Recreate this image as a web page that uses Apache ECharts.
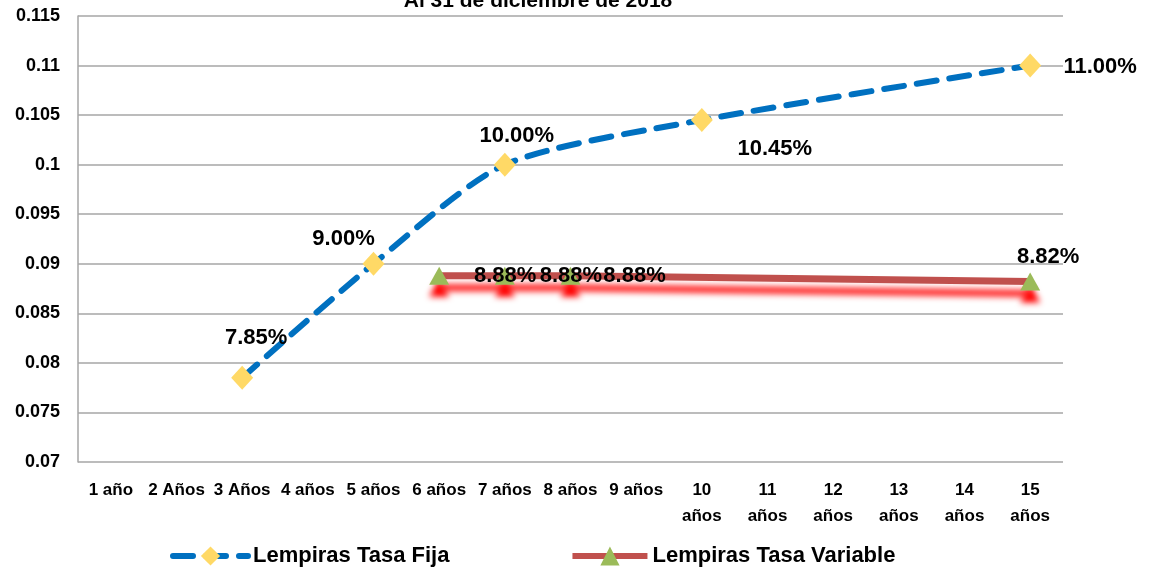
<!DOCTYPE html>
<html><head><meta charset="utf-8">
<script src="https://cdn.jsdelivr.net/npm/echarts@6/dist/echarts.min.js"></script>
<style>html,body{margin:0;padding:0;background:#fff}#c{width:1150px;height:571px}</style>
</head><body><div id="c"></div>
<script>
var categories = ['1 año','2 Años','3 Años','4 años','5 años','6 años','7 años','8 años','9 años','10 años','11 años','12 años','13 años','14 años','15 años'];
var tasaFija = [null,null,0.0785,null,0.09,null,0.10,null,null,0.1045,null,null,null,null,0.11];
var tasaVariable = [null,null,null,null,null,0.0888,0.0888,0.0888,null,null,null,null,null,null,0.0882];
var fijaLabelOffsets = {2:[14,-40],4:[-30,-25],6:[12,-29],9:[73,29],14:[70,1]};
var varLabelOffsets = {5:[66,0],6:[66,0],7:[64,0],14:[18,-25]};
var yTicks = {min:0.07,max:0.115,interval:0.005};

var FONT = 'Liberation Sans';
function pct(v){return (v*100).toFixed(2)+'%';}
function mk(arr, offs){
  return arr.map(function(v,i){
    if(v===null) return null;
    return {value:v,label:{offset:offs[i]||[0,0]}};
  });
}
var chart = echarts.init(document.getElementById('c'));
chart.setOption({
  animation:false,
  title:{text:'Al 31 de diciembre de 2018',left:533,textAlign:'center',top:-14,
    textStyle:{fontFamily:FONT,fontWeight:'bold',fontSize:21,color:'#000'}},
  grid:{left:78,right:87,top:16,bottom:109},
  legend:{left:165,top:540,itemGap:120,itemWidth:75,itemHeight:24,
    lineStyle:{width:6},
    textStyle:{fontFamily:FONT,fontWeight:'bold',fontSize:22,color:'#000'},
    data:['Lempiras Tasa Fija','Lempiras Tasa Variable']},
  xAxis:{type:'category',data:categories,boundaryGap:true,
    axisLine:{show:false},axisTick:{show:false},
    axisLabel:{interval:0,margin:15,fontFamily:FONT,fontWeight:'bold',fontSize:17,color:'#000',lineHeight:26,
      formatter:function(v,i){return i>=9?v.replace(' ','\n'):v;}}},
  yAxis:{type:'value',min:yTicks.min,max:yTicks.max,interval:yTicks.interval,
    axisLine:{show:true,lineStyle:{color:'#A6A6A6',width:1.5}},axisTick:{show:false},
    splitLine:{lineStyle:{color:'#A6A6A6',width:1.5}},
    axisLabel:{margin:18,fontFamily:FONT,fontWeight:'bold',fontSize:18,color:'#000',
      formatter:function(v){return String(parseFloat(v.toFixed(3)));}}},
  series:[
    {name:'Lempiras Tasa Fija',type:'line',data:mk(tasaFija,fijaLabelOffsets),connectNulls:true,smooth:0.25,
      lineStyle:{color:'#0070C0',width:6,type:[20,13],cap:'round'},
      itemStyle:{color:'#FFD966'},symbol:'diamond',symbolSize:[22,24],
      label:{show:true,position:'inside',formatter:function(p){return pct(p.value);},
        fontFamily:FONT,fontWeight:'bold',fontSize:22,color:'#000'},z:3},
    {name:'Lempiras Tasa Variable',type:'line',data:mk(tasaVariable,varLabelOffsets),connectNulls:true,
      lineStyle:{color:'#C0504D',width:7,shadowColor:'rgba(255,0,0,0.9)',shadowBlur:6,shadowOffsetY:12},
      itemStyle:{color:'#9BBB59',shadowColor:'rgba(255,0,0,1)',shadowBlur:6,shadowOffsetY:12},
      symbol:'triangle',symbolSize:[20,18],
      label:{show:true,position:'inside',formatter:function(p){return pct(p.value);},
        fontFamily:FONT,fontWeight:'bold',fontSize:22,color:'#000'},z:2}
  ]
});
</script></body></html>
